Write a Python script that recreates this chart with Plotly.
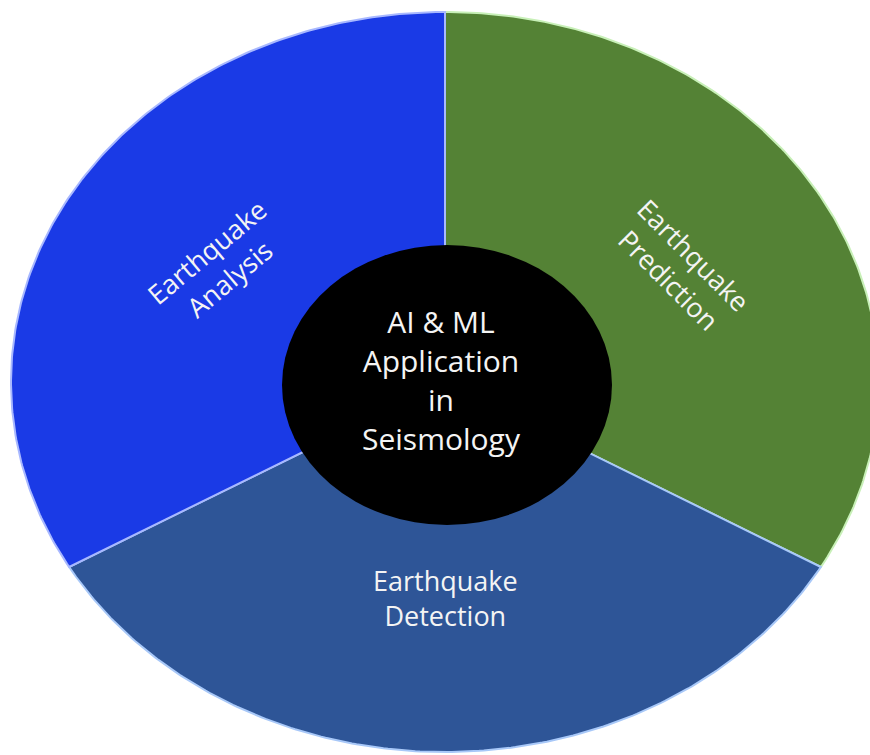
import numpy as np
import plotly.graph_objects as go

# ---- data ----
categories = ["Earthquake Prediction", "Earthquake Detection", "Earthquake Analysis"]
labels_wrapped = ["Earthquake<br>Prediction", "Earthquake<br>Detection", "Earthquake<br>Analysis"]
values = [1, 1, 1]
colors = ["#548235", "#2E5597", "#1A3AE6"]
edge_colors = ["#C8F0B8", "#A8C8F8", "#A8B8FF"]
center_text = "AI &amp; ML<br>Application<br>in<br>Seismology"

# ---- geometry (pixel space) ----
W, H = 870, 755
cx, cy = 445, 382
rx, ry = 434, 370
hole_rx, hole_ry = 165, 140
hole_cx, hole_cy = 447, 385

fig = go.Figure()

total = sum(values)
cum = np.concatenate([[0], np.cumsum(values)]) / total
for i, cat in enumerate(categories):
    a0, a1 = cum[i] * 2 * np.pi, cum[i + 1] * 2 * np.pi
    t = np.linspace(a0, a1, 200)
    xs = np.concatenate([[cx], cx + rx * np.sin(t), [cx]])
    ys = np.concatenate([[cy], cy - ry * np.cos(t), [cy]])
    fig.add_trace(go.Scatter(
        x=xs, y=ys, mode="lines", fill="toself",
        fillcolor=colors[i], line=dict(color=edge_colors[i], width=2),
        name=cat, hoverinfo="name", showlegend=False))

# center hole
fig.add_shape(type="circle", xref="x", yref="y",
              x0=hole_cx - hole_rx, x1=hole_cx + hole_rx,
              y0=hole_cy - hole_ry, y1=hole_cy + hole_ry,
              fillcolor="black", line=dict(color="black", width=0))

# slice labels
label_r = [0.62, 0.585, 0.63]
label_angle = [45, 0, -40]
label_dx = [3, 0, 10]
for i, lab in enumerate(labels_wrapped):
    mid = (cum[i] + cum[i + 1]) / 2 * 2 * np.pi
    lx = cx + label_r[i] * rx * np.sin(mid) + label_dx[i]
    ly = cy - label_r[i] * ry * np.cos(mid)
    fig.add_annotation(x=lx, y=ly, xref="x", yref="y", text=lab,
                       showarrow=False, textangle=label_angle[i],
                       font=dict(family="Open Sans", size=27, color="#F4F4F4"))

fig.add_annotation(x=hole_cx - 6, y=hole_cy - 5, xref="x", yref="y", text=center_text,
                   showarrow=False,
                   font=dict(family="Open Sans", size=30, color="#F4F4F4"))

fig.update_layout(
    width=W, height=H, margin=dict(l=0, r=0, t=0, b=0),
    paper_bgcolor="white", plot_bgcolor="white",
    xaxis=dict(range=[0, W], visible=False, fixedrange=True),
    yaxis=dict(range=[H, 0], visible=False, fixedrange=True),
    showlegend=False,
)

fig.write_html("out.html")
